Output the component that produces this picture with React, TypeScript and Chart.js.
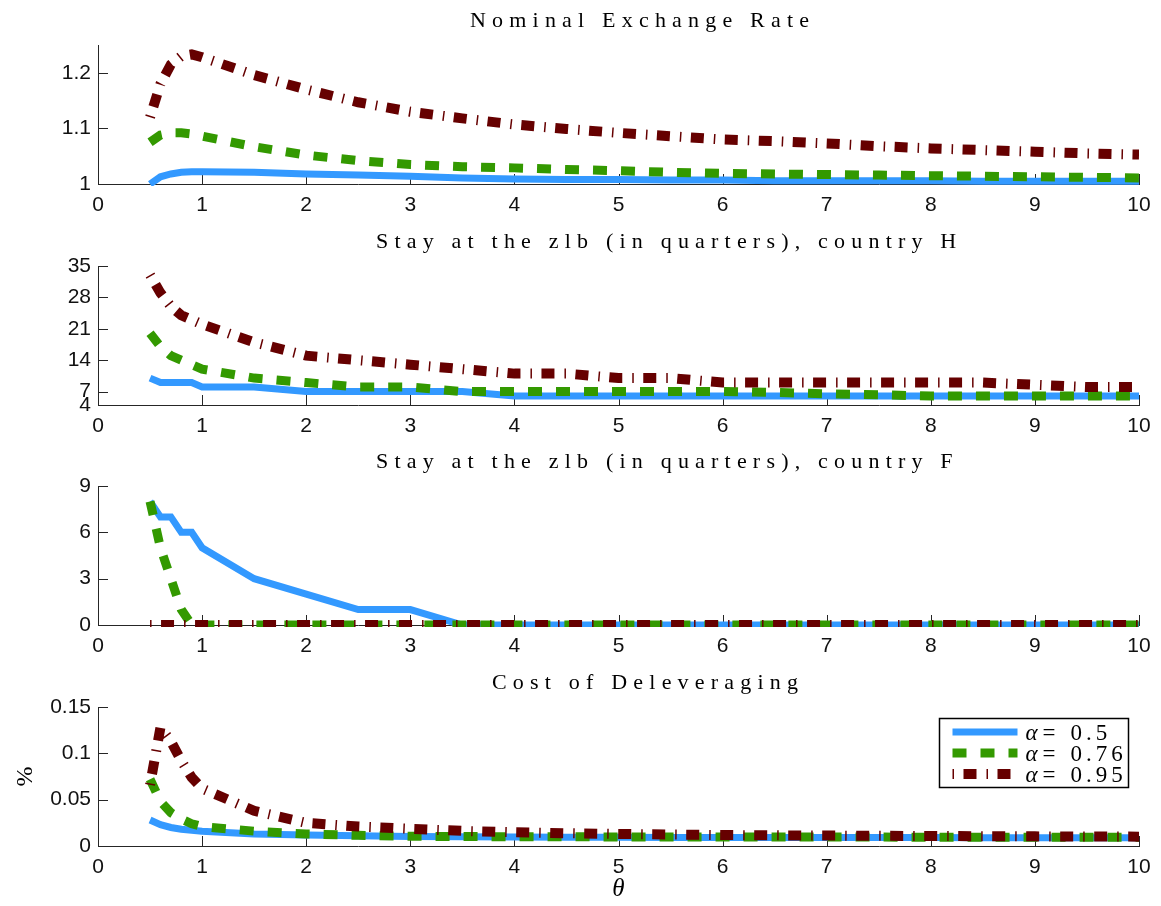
import React, { useEffect, useRef } from 'react';
import { Chart, registerables } from 'chart.js';

Chart.register(...registerables);

// ---------------- data ----------------
const thetaGrid = [0.5, 0.6, 0.7, 0.8, 0.9, 1, 1.5, 2, 2.5, 3, 3.5, 4, 4.5, 5, 5.5, 6, 6.5, 7, 7.5, 8, 8.5, 9, 9.5, 10];
const xTickValues = [0, 1, 2, 3, 4, 5, 6, 7, 8, 9, 10];
const seriesLabels = ['α=0.5', 'α=0.76', 'α=0.95'];
const seriesColors = ['#3399ff', '#339900', '#660000'];

const panelTitles = [
  'Nominal Exchange Rate',
  'Stay at the zlb (in quarters), country H',
  'Stay at the zlb (in quarters), country F',
  'Cost of Deleveraging',
];

// Panel 1: nominal exchange rate
const exchangeA050 = [1.0, 1.013, 1.018, 1.021, 1.022, 1.022, 1.021, 1.018, 1.016, 1.014, 1.011, 1.009, 1.008, 1.008, 1.007, 1.007, 1.006, 1.006, 1.006, 1.006, 1.005, 1.005, 1.005, 1.005];
const exchangeA076 = [1.075, 1.088, 1.092, 1.092, 1.09, 1.086, 1.067, 1.052, 1.042, 1.035, 1.031, 1.029, 1.026, 1.024, 1.021, 1.019, 1.018, 1.017, 1.016, 1.015, 1.014, 1.013, 1.012, 1.011];
const exchangeA095 = [1.12, 1.18, 1.215, 1.23, 1.233, 1.228, 1.196, 1.17, 1.147, 1.13, 1.118, 1.107, 1.099, 1.092, 1.086, 1.08, 1.077, 1.073, 1.068, 1.064, 1.061, 1.058, 1.055, 1.053];
const exchangeYRange = [1, 1.25];
const exchangeYTicks = [1, 1.1, 1.2];

// Panel 2: stay at zlb, country H
const stayHA050 = [10, 9, 9, 9, 9, 8, 8, 7, 7, 7, 7, 6, 6, 6, 6, 6, 6, 6, 6, 6, 6, 6, 6, 6];
const stayHA076 = [20, 17, 15, 14, 13, 12, 10, 9, 8, 8, 7, 7, 7, 7, 7, 7, 6.8, 6.5, 6.3, 6, 6, 6, 6, 6];
const stayHA095 = [33, 29, 26, 24, 23, 22, 18, 15, 14, 13, 12, 11, 11, 10, 10, 9, 9, 9, 9, 9, 9, 8.5, 8, 8];
const stayHYRange = [4, 35];
const stayHYTicks = [4, 7, 14, 21, 28, 35];

// Panel 3: stay at zlb, country F
const stayFA050 = [8, 7, 7, 6, 6, 5, 3, 2, 1, 1, 0, 0, 0, 0, 0, 0, 0, 0, 0, 0, 0, 0, 0, 0];
const stayFA076 = [8, 5, 3, 1, 0, 0, 0, 0, 0, 0, 0, 0, 0, 0, 0, 0, 0, 0, 0, 0, 0, 0, 0, 0];
const stayFA095 = [0, 0, 0, 0, 0, 0, 0, 0, 0, 0, 0, 0, 0, 0, 0, 0, 0, 0, 0, 0, 0, 0, 0, 0];
const stayFYRange = [0, 9];
const stayFYTicks = [0, 3, 6, 9];

// Panel 4: cost of deleveraging (%)
const costA050 = [0.028, 0.023, 0.02, 0.018, 0.017, 0.016, 0.013, 0.012, 0.011, 0.0103, 0.0099, 0.0096, 0.0095, 0.0094, 0.0093, 0.0093, 0.0092, 0.0092, 0.0091, 0.0091, 0.009, 0.009, 0.009, 0.009];
const costA076 = [0.072, 0.048, 0.036, 0.029, 0.024, 0.021, 0.016, 0.013, 0.0115, 0.0105, 0.0102, 0.01, 0.0099, 0.0098, 0.0097, 0.0097, 0.0096, 0.0096, 0.0096, 0.0095, 0.0095, 0.0095, 0.0095, 0.0095];
const costA095 = [0.066, 0.128, 0.113, 0.092, 0.074, 0.062, 0.038, 0.025, 0.021, 0.0185, 0.0163, 0.0148, 0.0138, 0.013, 0.0124, 0.0118, 0.0115, 0.0113, 0.011, 0.0108, 0.0106, 0.0104, 0.0102, 0.0101];
const costYRange = [0, 0.15];
const costYTicks = [0, 0.05, 0.1, 0.15];

const xAxisTitle = 'θ';
const yAxisTitleCost = '%';

// ---------------- layout / style ----------------
const PLOT_LEFT = 98;
const PLOT_RIGHT = 1139;
const PLOT_H = 139;
const PANEL_TOPS = [45, 266, 486, 707];
const TITLE_LEFTS = [470, 376, 376, 492];
const PAD_TOP = 20;
const AXIS_BAND = 40;
const LAST_AXIS_BAND = 62;
const CANVAS_W = 1161;
const AXIS_COLOR = '#262626';
const TICK_LEN = 10;

const lineStyles = [
  { width: 7, dash: [] as number[] },
  { width: 9, dash: [14, 14] },
  { width: 10, dash: [1.5, 9.5, 13, 10] },
];

const panels = [
  { title: panelTitles[0], series: [exchangeA050, exchangeA076, exchangeA095], range: exchangeYRange, ticks: exchangeYTicks },
  { title: panelTitles[1], series: [stayHA050, stayHA076, stayHA095], range: stayHYRange, ticks: stayHYTicks },
  { title: panelTitles[2], series: [stayFA050, stayFA076, stayFA095], range: stayFYRange, ticks: stayFYTicks },
  { title: panelTitles[3], series: [costA050, costA076, costA095], range: costYRange, ticks: costYTicks },
];

const inwardTicks = {
  id: 'inwardTicks',
  beforeDatasetsDraw(chart: any) {
    const { ctx, chartArea: a, scales } = chart;
    ctx.save();
    ctx.strokeStyle = AXIS_COLOR;
    ctx.lineWidth = 1;
    ctx.beginPath();
    scales.x.ticks.forEach((t: any) => {
      const px = Math.round(scales.x.getPixelForValue(t.value)) + 0.5;
      ctx.moveTo(px, a.bottom);
      ctx.lineTo(px, a.bottom - TICK_LEN);
    });
    scales.y.ticks.forEach((t: any) => {
      const py = Math.round(scales.y.getPixelForValue(t.value)) + 0.5;
      ctx.moveTo(a.left, py);
      ctx.lineTo(a.left + TICK_LEN, py);
    });
    ctx.stroke();
    ctx.restore();
  },
};

const legendBox = {
  id: 'legendBox',
  afterDraw(chart: any) {
    const { ctx, chartArea: a } = chart;
    const bx = Math.round(a.right - 200) + 0.5;
    const by = Math.round(a.top + 11) + 0.5;
    const bw = 189;
    const bh = 69;
    ctx.save();
    ctx.fillStyle = '#ffffff';
    ctx.fillRect(bx, by, bw, bh);
    ctx.strokeStyle = '#000000';
    ctx.lineWidth = 1.5;
    ctx.strokeRect(bx, by, bw, bh);
    chart.data.datasets.forEach((ds: any, i: number) => {
      const y = by + 13.5 + i * 21;
      ctx.beginPath();
      ctx.setLineDash(ds.borderDash || []);
      ctx.lineDashOffset = 0;
      ctx.lineWidth = ds.borderWidth;
      ctx.strokeStyle = ds.borderColor;
      ctx.lineCap = 'butt';
      ctx.moveTo(bx + 13, y);
      ctx.lineTo(bx + 78, y);
      ctx.stroke();
      ctx.setLineDash([]);
      const label: string = ds.label;
      const sym = label.slice(0, 1);
      const eq = label.slice(1, 2);
      const num = label.slice(2);
      ctx.fillStyle = '#000000';
      ctx.textBaseline = 'alphabetic';
      ctx.textAlign = 'left';
      ctx.font = 'italic 23px "Liberation Serif"';
      ctx.fillText(sym, bx + 86, y + 7.5);
      ctx.font = '23px "Liberation Serif"';
      ctx.fillText(eq, bx + 103, y + 7.5);
      (ctx as any).letterSpacing = '4px';
      ctx.fillText(num, bx + 131, y + 7.5);
      (ctx as any).letterSpacing = '0px';
    });
    ctx.restore();
  },
};

function makeConfig(pi: number): any {
  const p = panels[pi];
  const isLast = pi === panels.length - 1;
  const band = isLast ? LAST_AXIS_BAND : AXIS_BAND;
  const tickFont = { family: '"Liberation Sans", Arial, sans-serif', size: 21 };
  return {
    type: 'line',
    data: {
      datasets: p.series.map((ys, si) => ({
        label: seriesLabels[si],
        data: thetaGrid.map((x, k) => ({ x, y: ys[k] })),
        borderColor: seriesColors[si],
        backgroundColor: seriesColors[si],
        borderWidth: lineStyles[si].width,
        borderDash: lineStyles[si].dash,
        borderCapStyle: 'butt',
        borderJoinStyle: 'miter',
        pointRadius: 0,
        fill: false,
        tension: 0,
        order: 3 - si,
        clip: { left: 10, right: 0, top: 10, bottom: 2 },
      })),
    },
    options: {
      animation: false,
      responsive: false,
      maintainAspectRatio: false,
      events: [],
      layout: { padding: { top: PAD_TOP, right: CANVAS_W - PLOT_RIGHT, bottom: 0, left: 0 } },
      plugins: { legend: { display: false }, tooltip: { enabled: false }, title: { display: false } },
      scales: {
        x: {
          type: 'linear',
          min: 0,
          max: 10,
          grid: { display: false, drawTicks: false, tickLength: 0 },
          border: { display: true, color: AXIS_COLOR, width: 1 },
          ticks: {
            font: tickFont,
            color: '#111',
            padding: 9,
            maxRotation: 0,
            autoSkip: false,
            callback: (v: number) => String(v),
          },
          afterBuildTicks: (s: any) => {
            s.ticks = xTickValues.map((v) => ({ value: v }));
          },
          afterFit: (s: any) => {
            s.height = band;
          },
          title: isLast
            ? {
                display: true,
                text: xAxisTitle,
                color: '#000',
                font: { family: '"Liberation Serif", serif', style: 'italic', size: 25 },
                padding: { top: 0, bottom: 4 },
              }
            : { display: false },
        },
        y: {
          type: 'linear',
          min: p.range[0],
          max: p.range[1],
          grid: { display: false, drawTicks: false, tickLength: 0 },
          border: { display: true, color: AXIS_COLOR, width: 1 },
          ticks: {
            font: tickFont,
            color: '#111',
            padding: 7,
            autoSkip: false,
            callback: (v: number) => String(v),
          },
          afterBuildTicks: (s: any) => {
            s.ticks = p.ticks.map((v) => ({ value: v }));
          },
          afterFit: (s: any) => {
            s.width = PLOT_LEFT;
          },
          title: isLast
            ? {
                display: true,
                text: yAxisTitleCost,
                color: '#000',
                font: { family: '"Liberation Serif", serif', size: 24 },
                padding: { top: 11, bottom: 0 },
              }
            : { display: false },
        },
      },
    },
    plugins: isLast ? [inwardTicks, legendBox] : [inwardTicks],
  };
}

export default function App() {
  const refs = [useRef<HTMLCanvasElement>(null), useRef<HTMLCanvasElement>(null), useRef<HTMLCanvasElement>(null), useRef<HTMLCanvasElement>(null)];

  useEffect(() => {
    const charts: Chart[] = [];
    refs.forEach((r, i) => {
      if (r.current) charts.push(new Chart(r.current, makeConfig(i)));
    });
    return () => charts.forEach((c) => c.destroy());
  }, []);

  return (
    <div style={{ position: 'absolute', left: 0, top: 0, width: CANVAS_W, height: 906, background: '#fff', overflow: 'hidden' }}>
      {panels.map((p, i) => {
        const band = i === panels.length - 1 ? LAST_AXIS_BAND : AXIS_BAND;
        const h = PAD_TOP + PLOT_H + band;
        return (
          <React.Fragment key={i}>
            <canvas
              ref={refs[i]}
              width={CANVAS_W}
              height={h}
              style={{ position: 'absolute', left: 0, top: PANEL_TOPS[i] - PAD_TOP, width: CANVAS_W, height: h }}
            />
            <div
              style={{
                position: 'absolute',
                left: TITLE_LEFTS[i],
                top: PANEL_TOPS[i] - 36,
                height: 22,
                lineHeight: '22px',
                fontSize: 22,
                fontFamily: '"Liberation Serif", serif',
                letterSpacing: '6.2px',
                color: '#000',
                whiteSpace: 'nowrap',
                zIndex: 2,
              }}
            >
              {p.title}
            </div>
          </React.Fragment>
        );
      })}
    </div>
  );
}
